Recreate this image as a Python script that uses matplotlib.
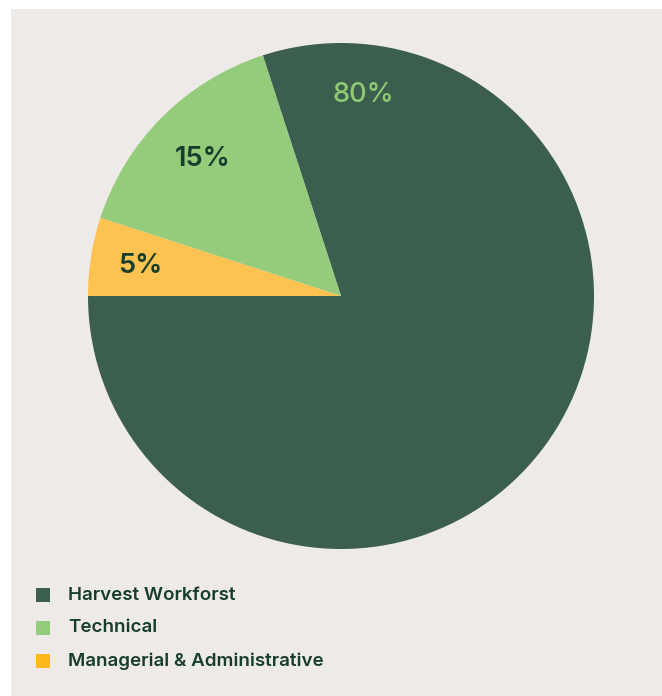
import matplotlib
matplotlib.use("Agg")
import matplotlib.pyplot as plt
from matplotlib.patches import Rectangle
import numpy as np

categories = ["Harvest Workforst", "Technical", "Managerial & Administrative"]
values = [80, 15, 5]
pie_colors = ["#3b5e4f", "#95cc7c", "#fdc24f"]
legend_colors = ["#3b5e4f", "#95cc7c", "#ffb81c"]
label_colors = ["#8fcb74", "#173d2c", "#173d2c"]

W, H = 662, 696
fig = plt.figure(figsize=(W / 100, H / 100), dpi=100)
fig.patch.set_facecolor("white")

bg = fig.add_axes([11 / W, 0, 1 - 11 / W, 1 - 9 / H], zorder=-10)
bg.set_facecolor("#eeeae7")
bg.set_xticks([])
bg.set_yticks([])
for s in bg.spines.values():
    s.set_visible(False)

cx, cy, r = 341, 296, 253
ax = fig.add_axes([(cx - r) / W, (H - cy - r) / H, 2 * r / W, 2 * r / H], zorder=1)
ax.set_facecolor("none")
wedges, texts, autotexts = ax.pie(values, colors=pie_colors, startangle=180,
                                  counterclock=True, radius=1,
                                  autopct=lambda p: f"{p:.0f}%", pctdistance=0.78,
                                  wedgeprops=dict(linewidth=0))
ax.set_xlim(-1, 1)
ax.set_ylim(-1, 1)
ax.set_aspect("equal")
ax.axis("off")

for i, t in enumerate(autotexts):
    t.set_color(label_colors[i])
    t.set_fontsize(19.5)
    t.set_fontfamily("Inter")
    t.set_fontweight("semibold")
autotexts[0].set_position((0.087, 0.795))
autotexts[0].set_fontweight("medium")
autotexts[1].set_position((-0.545, 0.54))
autotexts[2].set_position((-0.795, 0.12))

# legend
rows_y = [595, 628, 661]
for cat, col, y in zip(categories, legend_colors, rows_y):
    fig.patches.append(Rectangle((36 / W, 1 - (y + 7) / H), 14 / W, 14 / H,
                                 transform=fig.transFigure, facecolor=col,
                                 edgecolor="none", zorder=2))
    fig.text(68 / W, 1 - y / H, cat, fontsize=13.5, fontfamily="Inter",
             fontweight="semibold", color="#173d2c", va="center", ha="left")

fig.savefig("out.png", dpi=100, facecolor=fig.get_facecolor())
